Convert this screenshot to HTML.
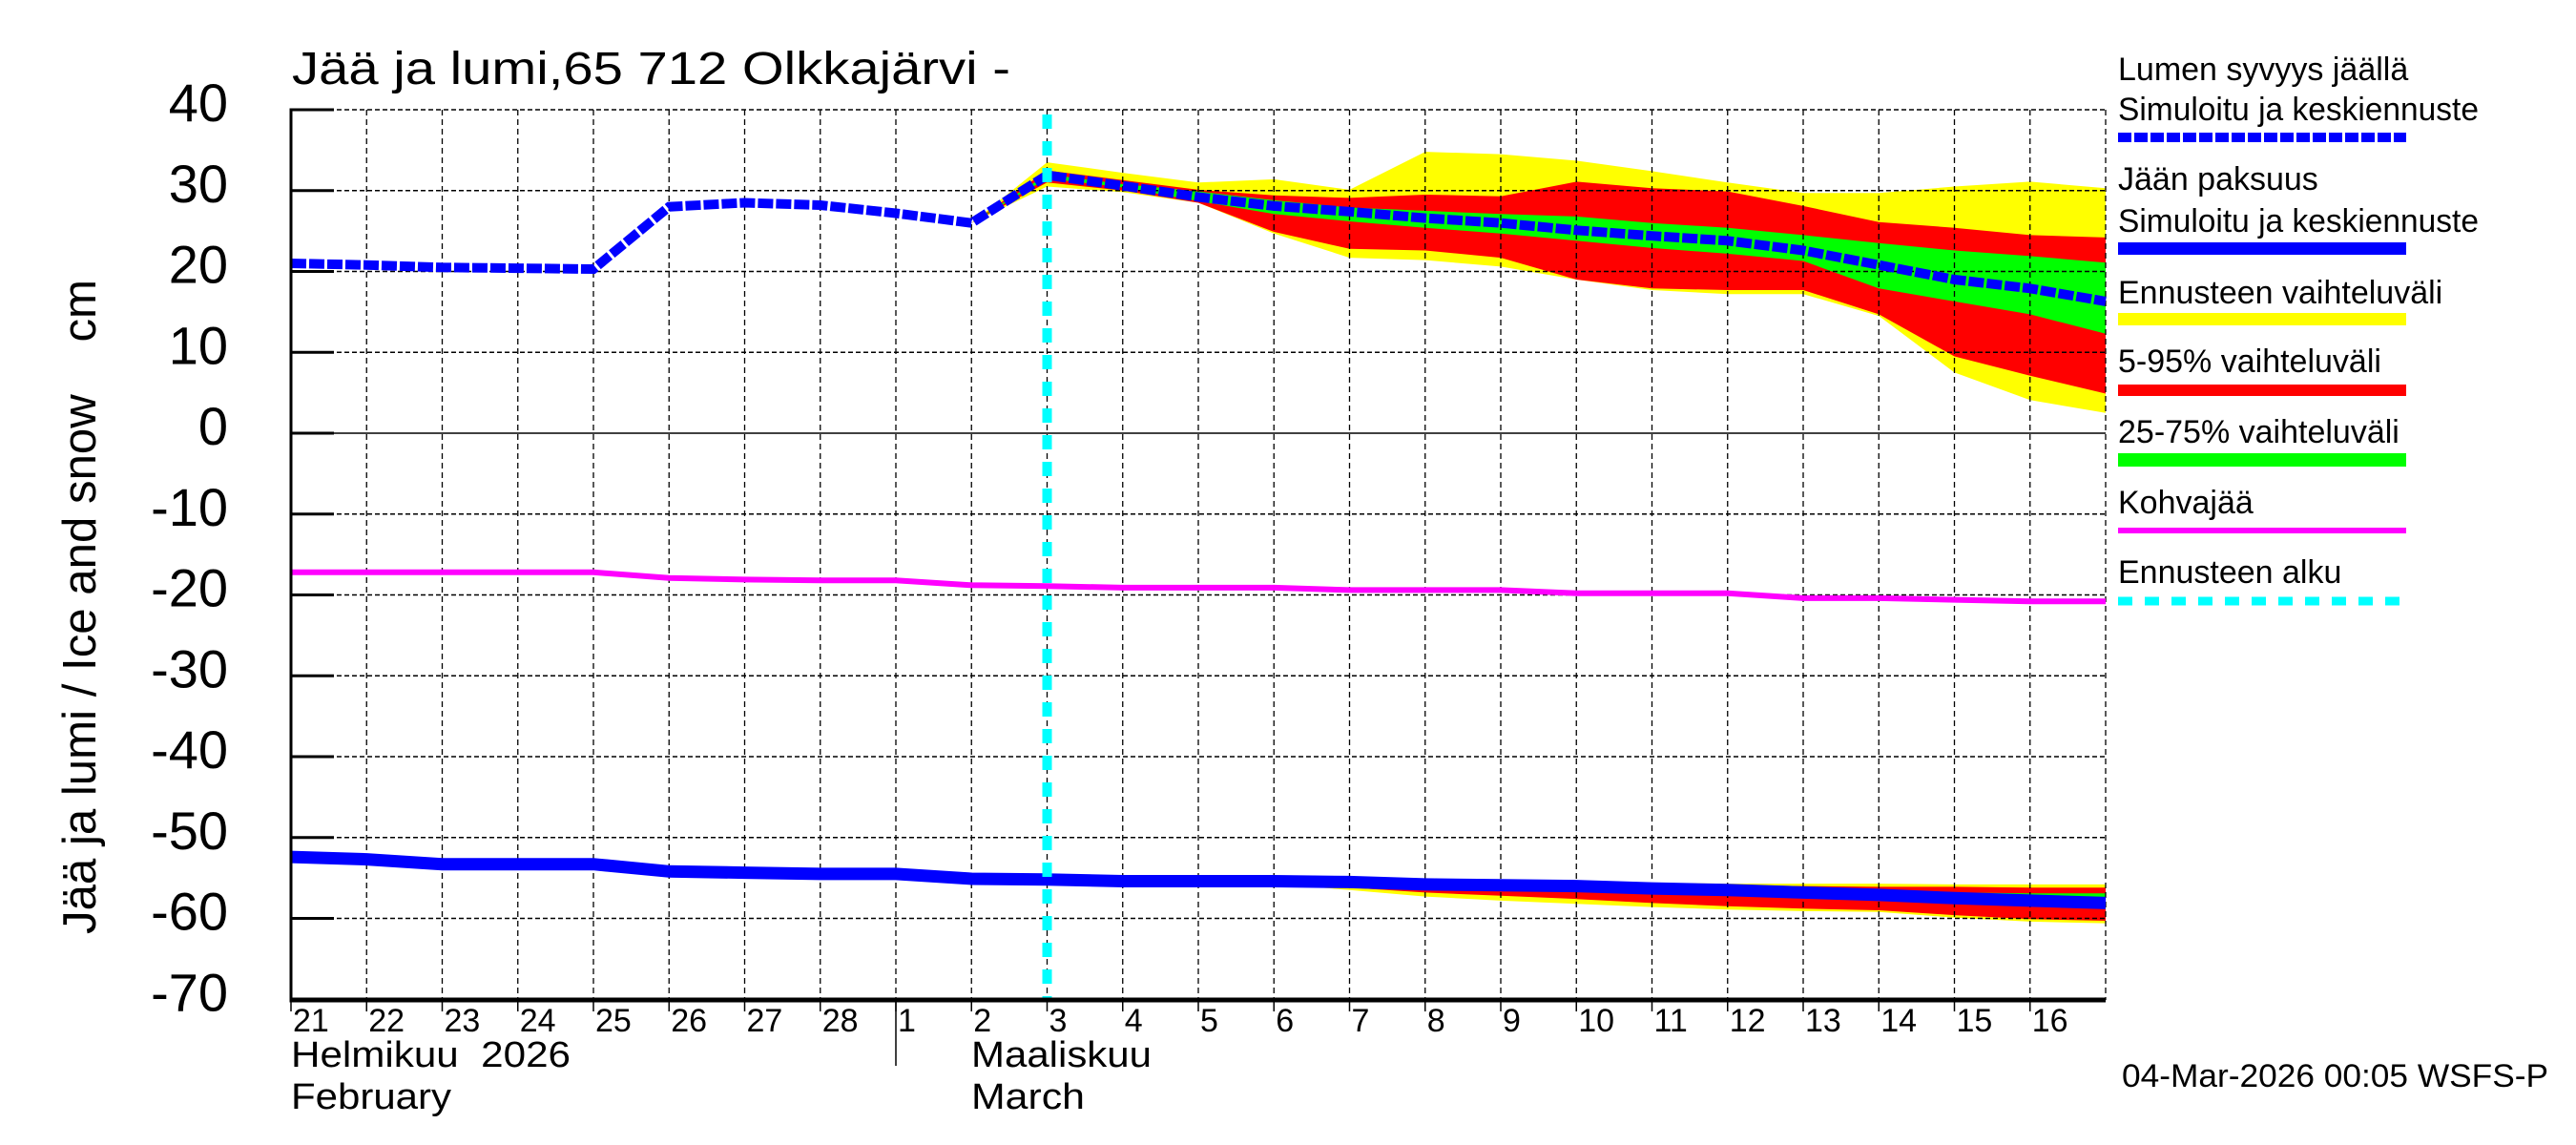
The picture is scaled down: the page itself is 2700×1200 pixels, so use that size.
<!DOCTYPE html>
<html><head><meta charset="utf-8">
<style>
html,body{margin:0;padding:0;background:#fff;}
svg{display:block;font-family:"Liberation Sans",Arial,sans-serif;}
</style></head>
<body>
<svg id="chart" xmlns="http://www.w3.org/2000/svg" width="2700" height="1200" viewBox="0 0 2700 1200">
<rect x="0" y="0" width="2700" height="1200" fill="#fff"/>
<g id="bands"></g>
<g id="grid"></g>
<g id="series"></g>
<g id="axes"></g>
<text x="306" y="88" font-size="48" textLength="753" lengthAdjust="spacingAndGlyphs">Jää ja lumi,65 712 Olkkajärvi -</text>
<text transform="translate(100,979) rotate(-90)" font-size="49" textLength="686" lengthAdjust="spacingAndGlyphs" xml:space="preserve">Jää ja lumi / Ice and snow    cm</text>
<g font-size="34">
  <text x="2220" y="84">Lumen syvyys jäällä</text>
  <text x="2220" y="126" textLength="378" lengthAdjust="spacingAndGlyphs">Simuloitu ja keskiennuste</text>
  <line x1="2220" y1="144" x2="2522" y2="144" stroke="#0000ff" stroke-width="10" stroke-dasharray="14,3"/>
  <text x="2220" y="199">Jään paksuus</text>
  <text x="2220" y="243" textLength="378" lengthAdjust="spacingAndGlyphs">Simuloitu ja keskiennuste</text>
  <rect x="2220" y="254" width="302" height="13" fill="#0000ff"/>
  <text x="2220" y="318">Ennusteen vaihteluväli</text>
  <rect x="2220" y="328" width="302" height="13" fill="#ffff00"/>
  <text x="2220" y="390">5-95% vaihteluväli</text>
  <rect x="2220" y="403" width="302" height="12" fill="#ff0000"/>
  <text x="2220" y="464">25-75% vaihteluväli</text>
  <rect x="2220" y="475" width="302" height="14" fill="#00ff00"/>
  <text x="2220" y="538">Kohvajää</text>
  <rect x="2220" y="553" width="302" height="6" fill="#ff00ff"/>
  <text x="2220" y="611">Ennusteen alku</text>
  <line x1="2220" y1="630" x2="2522" y2="630" stroke="#00ffff" stroke-width="9" stroke-dasharray="15,13"/>
</g>
<text x="305" y="1118" font-size="38" textLength="293" lengthAdjust="spacingAndGlyphs" xml:space="preserve">Helmikuu  2026</text>
<text x="305" y="1162" font-size="38" textLength="168" lengthAdjust="spacingAndGlyphs">February</text>
<text x="1018" y="1118" font-size="38" textLength="189" lengthAdjust="spacingAndGlyphs">Maaliskuu</text>
<text x="1018" y="1162" font-size="38" textLength="119" lengthAdjust="spacingAndGlyphs">March</text>
<line x1="939" y1="1048" x2="939" y2="1117" stroke="#000" stroke-width="1.5"/>
<text x="2224" y="1139" font-size="34" textLength="447" lengthAdjust="spacingAndGlyphs">04-Mar-2026 00:05 WSFS-P</text>
</svg>
<script>
const dayLabels = ["21","22","23","24","25","26","27","28","1","2","3","4","5","6","7","8","9","10","11","12","13","14","15","16"];
const yTicks = [40,30,20,10,0,-10,-20,-30,-40,-50,-60,-70];
const snowDepth = [21,20.8,20.5,20.4,20.3,28,28.5,28.2,27.2,26.0,31.9,30.6,29.2,28.1,27.4,26.6,26.0,25.1,24.4,23.8,22.6,20.8,19.0,17.9,16.3];
const iceThick = [-52.4,-52.7,-53.3,-53.3,-53.3,-54.2,-54.35,-54.5,-54.5,-55.1,-55.2,-55.4,-55.4,-55.4,-55.5,-55.8,-55.9,-56.0,-56.3,-56.5,-56.8,-57.1,-57.5,-57.8,-58.1];
const kohva = [-17.2,-17.2,-17.2,-17.2,-17.2,-17.9,-18.1,-18.2,-18.2,-18.8,-18.9,-19.1,-19.1,-19.1,-19.4,-19.4,-19.4,-19.8,-19.8,-19.8,-20.4,-20.4,-20.6,-20.8,-20.8];
const snowBandStart = 9;
const snowYelU = [26,33.5,32.2,31.0,31.4,30.1,34.8,34.5,33.7,32.4,31.0,29.7,29.7,30.5,31.1,30.3];
const snowYelL = [26,30.5,29.8,28.5,24.7,21.7,21.4,20.6,19.0,17.7,17.2,17.2,14.5,7.5,4.1,2.5];
const snowRedU = [26,32.5,31.3,30.1,29.4,29.1,29.5,29.3,31.1,30.3,29.9,28.1,26.1,25.4,24.5,24.2];
const snowRedL = [26,31.0,30.0,28.5,24.9,22.8,22.6,21.7,19.0,17.9,17.7,17.7,14.7,9.5,7.1,4.9];
const snowGrnU = [26,32.0,30.8,29.9,28.8,27.9,27.5,27.1,26.8,26.0,25.4,24.5,23.5,22.6,21.9,21.1];
const snowGrnL = [26,31.5,30.4,28.7,27.1,26.2,25.4,24.7,23.8,22.9,22.2,21.3,17.9,16.3,14.7,12.3];
const iceBandStart = 10;
const iceYelU = [-55.2,-55.3,-55.3,-55.3,-55.3,-55.5,-55.6,-55.6,-55.6,-55.7,-55.7,-55.7,-55.8,-55.8,-55.8];
const iceYelL = [-55.2,-55.5,-55.6,-55.7,-56.5,-57.3,-57.8,-58.2,-58.6,-58.9,-59.1,-59.2,-59.9,-60.4,-60.6];
const iceRedU = [-55.2,-55.3,-55.4,-55.4,-55.4,-55.6,-55.7,-55.8,-55.8,-55.9,-56.0,-56.1,-56.1,-56.2,-56.2];
const iceRedL = [-55.2,-55.5,-55.6,-55.6,-56.2,-56.8,-57.2,-57.6,-58.1,-58.5,-58.8,-59.0,-59.6,-60.1,-60.3];
const iceGrnU = [-55.2,-55.3,-55.4,-55.4,-55.4,-55.6,-55.7,-55.8,-55.9,-56.0,-56.2,-56.5,-56.8,-56.9,-56.9];
const iceGrnL = [-55.2,-55.5,-55.5,-55.5,-55.7,-56.0,-56.1,-56.2,-56.6,-56.9,-57.3,-57.6,-58.0,-58.4,-58.8];
const forecastStartIdx = 10;

const X0 = 305, DX = 79.25, Y0 = 454, DY = 8.475, YTOP = 115, YBOT = 1048, XR = 2207;
const NS = "http://www.w3.org/2000/svg";
function xs(i){ return X0 + i*DX; }
function ys(v){ return Y0 - v*DY; }
function mk(tag, parent, attrs){ const e = document.createElementNS(NS, tag); for (const k in attrs) e.setAttribute(k, attrs[k]); parent.appendChild(e); return e; }
const gB = document.getElementById('bands'), gG = document.getElementById('grid'), gS = document.getElementById('series'), gA = document.getElementById('axes');

function band(up, lo, start, color, name){
  let pts = up.map((v,i)=>xs(start+i).toFixed(1)+','+ys(v).toFixed(1));
  for (let i=lo.length-1;i>=0;i--) pts.push(xs(start+i).toFixed(1)+','+ys(lo[i]).toFixed(1));
  const p = mk('polygon', gB, {points: pts.join(' '), fill: color});
  
  
}
band(snowYelU, snowYelL, snowBandStart, '#ffff00', 'snow-forecast-range');
band(snowRedU, snowRedL, snowBandStart, '#ff0000', 'snow-5-95-range');
band(snowGrnU, snowGrnL, snowBandStart, '#00ff00', 'snow-25-75-range');
band(iceYelU, iceYelL, iceBandStart, '#ffff00', 'ice-forecast-range');
band(iceRedU, iceRedL, iceBandStart, '#ff0000', 'ice-5-95-range');
band(iceGrnU, iceGrnL, iceBandStart, '#00ff00', 'ice-25-75-range');

yTicks.forEach(v=>{
  if (v===-70) return;
  const l = mk('line', gG, {x1:X0, x2:XR, y1:ys(v), y2:ys(v), stroke:'#000', 'stroke-width':1.5});
  if (v!==0) l.setAttribute('stroke-dasharray','5,3');
  
  
});
for (let i=1;i<=dayLabels.length;i++){
  const l = mk('line', gG, {x1:xs(i), x2:xs(i), y1:YTOP, y2:YBOT, stroke:'#000', 'stroke-width':1.3, 'stroke-dasharray':'6,4'});
  
  
}

function line(vals, color, w, dash, name){
  const pts = vals.map((v,i)=>xs(i).toFixed(1)+','+ys(v).toFixed(1)).join(' ');
  const p = mk('polyline', gS, {points:pts, fill:'none', stroke:color, 'stroke-width':w});
  if (dash) p.setAttribute('stroke-dasharray', dash);
  
  
}
line(kohva, '#ff00ff', 6, null, 'kohva-line');
line(iceThick, '#0000ff', 13, null, 'ice-thickness-line');
line(snowDepth, '#0000ff', 10, '16,3', 'snow-depth-line');

const fs = mk('line', gS, {x1:xs(forecastStartIdx), x2:xs(forecastStartIdx), y1:YTOP+5, y2:YBOT, stroke:'#00ffff', 'stroke-width':10, 'stroke-dasharray':'15,13'});



const ax1 = mk('line', gA, {x1:X0, x2:X0, y1:YTOP-1.5, y2:YBOT, stroke:'#000', 'stroke-width':3});


const ax2 = mk('line', gA, {x1:X0-1.5, x2:XR, y1:YBOT, y2:YBOT, stroke:'#000', 'stroke-width':5});


yTicks.forEach(v=>{
  const t = mk('line', gA, {x1:X0, x2:X0+45, y1:ys(v), y2:ys(v), stroke:'#000', 'stroke-width':3});
  
  
  const tx = mk('text', gA, {x:239, y:ys(v)+12, 'font-size':56, 'text-anchor':'end'});
  tx.textContent = String(v);
  
  
});
dayLabels.forEach((d,i)=>{
  const t = mk('line', gA, {x1:xs(i), x2:xs(i), y1:YBOT, y2:YBOT+12, stroke:'#000', 'stroke-width':1.5});
  
  
  const tx = mk('text', gA, {x:xs(i)+2, y:1081, 'font-size':34});
  tx.textContent = d;
  
  
});
</script>
</body></html>
